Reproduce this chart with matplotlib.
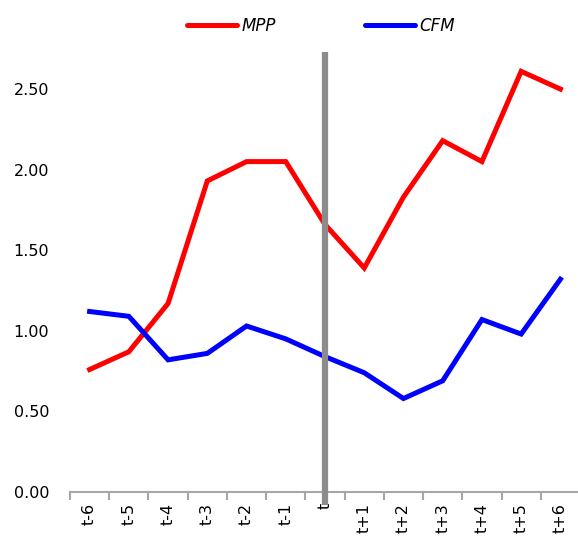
import matplotlib
matplotlib.use("Agg")
import matplotlib.pyplot as plt
from matplotlib.lines import Line2D

categories = ["t-6", "t-5", "t-4", "t-3", "t-2", "t-1", "t", "t+1", "t+2", "t+3", "t+4", "t+5", "t+6"]
mpp = [0.76, 0.87, 1.17, 1.93, 2.05, 2.05, 1.66, 1.39, 1.83, 2.18, 2.05, 2.61, 2.50]
cfm = [1.12, 1.09, 0.82, 0.86, 1.03, 0.95, 0.84, 0.74, 0.58, 0.69, 1.07, 0.98, 1.32]
yticks = [0.0, 0.5, 1.0, 1.5, 2.0, 2.5]
event_label = "t"

fig = plt.figure(figsize=(5.78, 5.42), dpi=100)
ax = fig.add_axes([70/578, 50/542, (580-70)/578, (492-52)/542])

x = list(range(len(categories)))
ax.plot(x, mpp, color="#FF0000", lw=3.6, solid_joinstyle="miter", label="MPP", clip_on=False)
ax.plot(x, cfm, color="#0000FF", lw=3.6, solid_joinstyle="miter", label="CFM", clip_on=False)

ymax = 2.73
ax.set_xlim(-0.5, len(categories) - 0.5)
ax.set_ylim(0, ymax)

# event bar
xi = categories.index(event_label)
ax.plot([xi, xi], [-0.08, ymax], color="#8C8C8C", lw=4.5, solid_capstyle="butt", clip_on=False, zorder=5)

for s in ["top", "right", "left"]:
    ax.spines[s].set_visible(False)
ax.spines["bottom"].set_color("#A6A6A6")
ax.spines["bottom"].set_linewidth(1.5)

ax.set_yticks(yticks)
ax.set_yticklabels([f"{v:.2f}" for v in yticks], fontsize=11.5)
ax.tick_params(axis="y", length=0, pad=15)

ax.set_xticks([i - 0.5 for i in range(len(categories) + 1)], minor=False)
ax.set_xticklabels([])
ax.tick_params(axis="x", which="major", length=6, width=1.5, color="#A6A6A6", direction="out")
ax.set_xticks(x, minor=True)
ax.set_xticklabels(categories, minor=True, rotation=90, fontsize=11.5)
ax.tick_params(axis="x", which="minor", length=0, pad=8)

handles = [Line2D([0], [0], color="#FF0000", lw=3.6, solid_capstyle="round"),
           Line2D([0], [0], color="#0000FF", lw=3.6, solid_capstyle="round")]
fig.legend(handles, ["MPP", "CFM"], loc="center", bbox_to_anchor=(321/578, 1 - 26/542),
           ncol=2, frameon=False, prop={"style": "italic", "size": 12},
           handlelength=3.0, columnspacing=5.3, handletextpad=0.3)

fig.savefig("out.png", dpi=100)
